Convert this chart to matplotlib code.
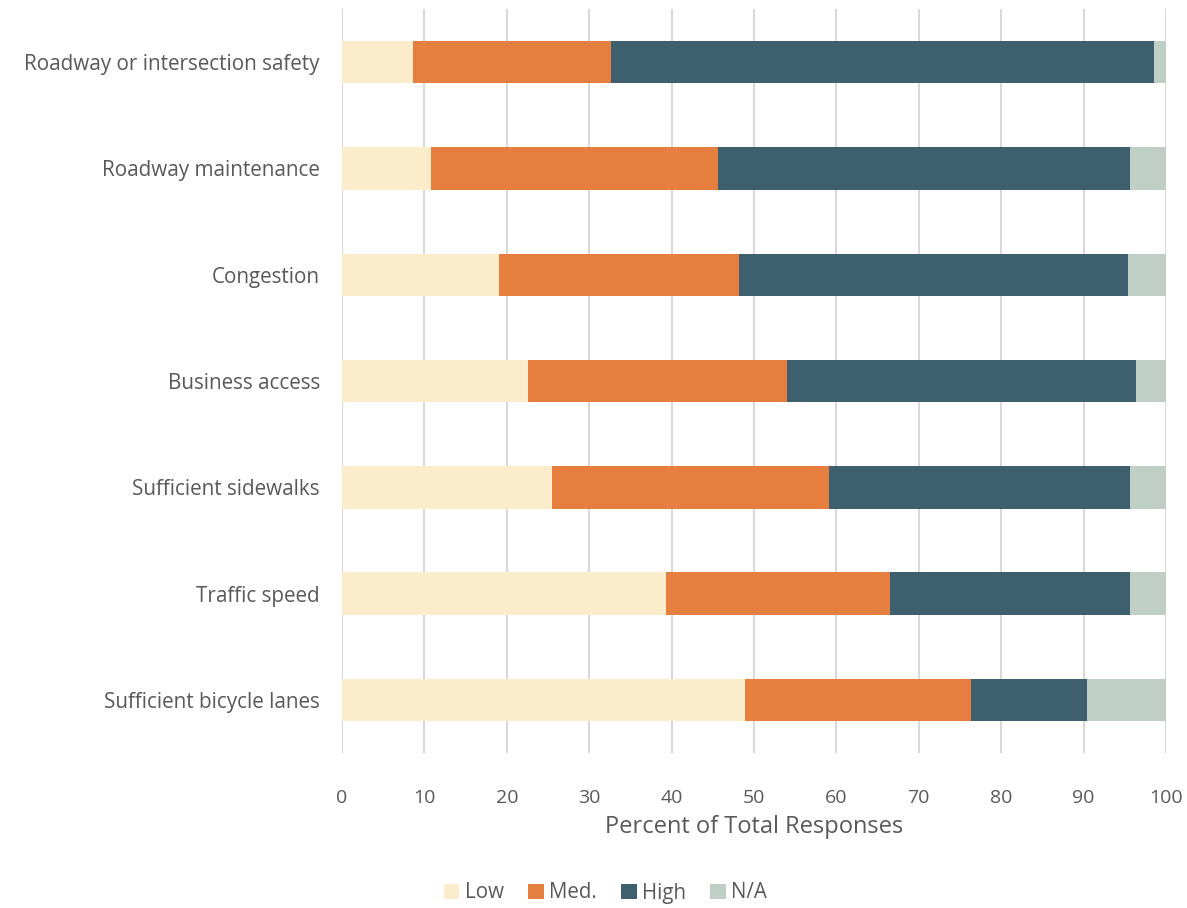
import numpy as np
import matplotlib.pyplot as plt

plt.rcParams['font.family'] = ['Open Sans', 'DejaVu Sans']

categories = ["Roadway or intersection safety", "Roadway maintenance", "Congestion",
              "Business access", "Sufficient sidewalks", "Traffic speed",
              "Sufficient bicycle lanes"]
low = [8.6, 10.8, 19.1, 22.6, 25.5, 39.3, 48.9]
med = [24.0, 34.8, 29.1, 31.4, 33.6, 27.2, 27.4]
high = [65.9, 50.0, 47.2, 42.4, 36.5, 29.1, 14.1]
na = [1.5, 4.4, 4.6, 3.6, 4.4, 4.4, 9.6]

series = [("Low", low, "#FBEDCC"), ("Med.", med, "#E57E3F"),
          ("High", high, "#3D5F6E"), ("N/A", na, "#BFCFC5")]

fig = plt.figure(figsize=(11.87, 9.08), dpi=100)
ax = fig.add_axes([342/1187, 0.1707, 824/1187, 0.8193])

y = np.arange(len(categories))
left = np.zeros(len(categories))
for name, vals, col in series:
    ax.barh(y, vals, left=left, height=0.4, color=col, label=name, zorder=3)
    left += np.array(vals)

ax.set_ylim(len(categories) - 0.5, -0.5)
ax.set_xlim(0, 100)
ax.set_xticks(np.arange(0, 101, 10))
ax.set_yticks(y)
ax.set_yticklabels(categories, fontsize=14.9)
ax.grid(axis='x', color='#D9D9D9', linewidth=1.5, zorder=0)
for s in ax.spines.values():
    s.set_visible(False)
ax.tick_params(axis='both', length=0, colors='#595959')
ax.tick_params(axis='x', pad=26, labelsize=14)
ax.tick_params(axis='y', pad=16)
ax.set_xlabel("Percent of Total Responses", fontsize=17, color='#595959', labelpad=6)

fig.legend(loc='center', bbox_to_anchor=(0.51, 1 - 893/908), ncol=4, frameon=False,
           fontsize=14.8, handlelength=0.75, handleheight=0.75, handletextpad=0.25,
           columnspacing=1.2, labelcolor='#595959')

fig.savefig("out.png", dpi=100)
